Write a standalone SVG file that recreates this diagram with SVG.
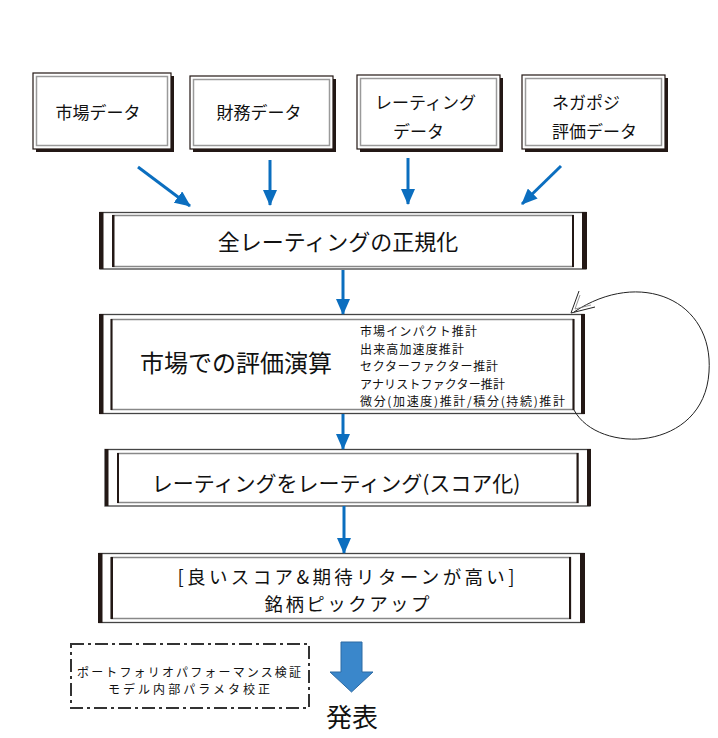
<svg xmlns="http://www.w3.org/2000/svg" width="718" height="738" viewBox="0 0 718 738">
<defs>
<style>
.t{font-family:"Noto Sans CJK JP","Noto Sans",sans-serif;fill:#111}
.shadow{fill:#231815}
.ob{fill:#fff;stroke:#231815;stroke-width:1.2}
.ib{fill:none;stroke:#9a9a9a;stroke-width:1.5}
.mo{fill:#fff;stroke:#444;stroke-width:1.3}
.mi{fill:none;stroke:#888;stroke-width:1.5}
.bar{fill:#231815}
.arr{stroke:#0b6ebf;stroke-width:3;fill:none}
</style>
<marker id="ah" markerUnits="userSpaceOnUse" markerWidth="16" markerHeight="14" refX="15" refY="7" orient="auto">
<path d="M0,0 L16,7 L0,14 z" fill="#0b6ebf"/>
</marker>
</defs>
<rect width="718" height="738" fill="#fff"/>

<g id="n-market">
<rect class="shadow" x="36" y="76" width="138" height="76"/>
<rect class="ob" x="33" y="73" width="138" height="76"/>
<rect class="ib" x="36.5" y="76.5" width="131" height="69"/>
<text class="t" x="98" y="119" font-size="17" text-anchor="middle">市場データ</text>
</g>
<g id="n-finance">
<rect class="shadow" x="193" y="79" width="143" height="73"/>
<rect class="ob" x="190" y="76" width="143" height="73"/>
<rect class="ib" x="193.5" y="79.5" width="136" height="66"/>
<text class="t" x="259" y="119" font-size="17" text-anchor="middle">財務データ</text>
</g>
<g id="n-rating">
<rect class="shadow" x="360" y="78" width="143" height="74"/>
<rect class="ob" x="357" y="75" width="143" height="74"/>
<rect class="ib" x="360.5" y="78.5" width="136" height="67"/>
<text class="t" x="375" y="109" font-size="17">レーティング</text>
<text class="t" x="393" y="138" font-size="17">データ</text>
</g>
<g id="n-negapos">
<rect class="shadow" x="525" y="78" width="143" height="74"/>
<rect class="ob" x="522" y="75" width="143" height="74"/>
<rect class="ib" x="525.5" y="78.5" width="136" height="67"/>
<text class="t" x="552" y="109" font-size="17">ネガポジ</text>
<text class="t" x="552" y="138" font-size="17">評価データ</text>
</g>

<g id="n-normalize">
<rect class="mo" x="100" y="212.5" width="486" height="56.5"/>
<rect class="bar" x="99" y="212" width="4.5" height="57"/>
<rect class="bar" x="582" y="212" width="5" height="57"/>
<rect class="mi" x="113" y="215.5" width="460" height="51"/>
<rect class="bar" x="112" y="215" width="2.5" height="52"/>
<rect class="bar" x="572" y="215" width="2" height="52"/>
<text class="t" x="338" y="250" font-size="22" text-anchor="middle">全レーティングの正規化</text>
</g>

<g id="n-eval">
<rect class="mo" x="100" y="314.5" width="484" height="99" stroke-width="2"/>
<rect class="bar" x="99" y="314" width="4.5" height="100"/>
<rect class="bar" x="581" y="314" width="4" height="100"/>
<rect class="mi" x="111.5" y="319.5" width="462" height="90"/>
<rect class="bar" x="110.5" y="319" width="2" height="91"/>
<rect class="bar" x="572.5" y="319" width="2" height="91"/>
<text class="t" x="236" y="372" font-size="24" text-anchor="middle">市場での評価演算</text>
<text class="t" x="360" y="336" font-size="12" textLength="117" lengthAdjust="spacing">市場インパクト推計</text>
<text class="t" x="360" y="353.5" font-size="12" textLength="104" lengthAdjust="spacing">出来高加速度推計</text>
<text class="t" x="360" y="371" font-size="12" textLength="138" lengthAdjust="spacing">セクターファクター推計</text>
<text class="t" x="360" y="388.5" font-size="12" textLength="145" lengthAdjust="spacing">アナリストファクター推計</text>
<text class="t" x="360" y="406" font-size="12" textLength="205" lengthAdjust="spacing">微分(加速度)推計/積分(持続)推計</text>
</g>

<g id="n-score">
<rect class="mo" x="105" y="449.5" width="485" height="56.5"/>
<rect class="bar" x="105" y="449" width="3.5" height="57"/>
<rect class="bar" x="587" y="449" width="4" height="57"/>
<rect class="mi" x="118" y="453.5" width="460" height="49"/>
<rect class="bar" x="117" y="453" width="2" height="50"/>
<rect class="bar" x="576.5" y="453" width="2" height="50"/>
<text class="t" x="336" y="491" font-size="21" text-anchor="middle">レーティングをレーティング(スコア化)</text>
</g>

<g id="n-pick">
<rect class="mo" x="99" y="553.5" width="485" height="69" stroke-width="2"/>
<rect class="bar" x="98" y="553" width="4.5" height="70"/>
<rect class="bar" x="580" y="553" width="5" height="70"/>
<rect class="mi" x="111.5" y="557.5" width="459" height="61"/>
<rect class="bar" x="110.5" y="557" width="2.5" height="62"/>
<rect class="bar" x="569" y="557" width="2" height="62"/>
<text class="t" x="346" y="584" font-size="18.5" text-anchor="middle" textLength="337" lengthAdjust="spacing">[良いスコア&amp;期待リターンが高い]</text>
<text class="t" x="347" y="611" font-size="18.5" text-anchor="middle" textLength="165" lengthAdjust="spacing">銘柄ピックアップ</text>
</g>

<g id="n-verify">
<rect x="71" y="644" width="238" height="64" fill="#fff" stroke="#333" stroke-width="2" stroke-dasharray="13 4 3 4"/>
<text class="t" x="77" y="676.5" font-size="12" textLength="224" lengthAdjust="spacing">ポートフォリオパフォーマンス検証</text>
<text class="t" x="108" y="694" font-size="12" textLength="162" lengthAdjust="spacing">モデル内部パラメタ校正</text>
</g>

<g id="n-publish">
<path d="M341,642 L362,642 L362,672 L373,672 L351.5,692 L330,672 L341,672 Z" fill="#3a87cb" stroke="#2c6aa3" stroke-width="1"/>
<text class="t" x="352" y="727" font-size="26" text-anchor="middle">発表</text>
</g>

<g id="connectors">
<line class="arr" x1="138" y1="167" x2="190" y2="206" marker-end="url(#ah)"/>
<line class="arr" x1="270" y1="160" x2="270" y2="205" marker-end="url(#ah)"/>
<line class="arr" x1="408" y1="158" x2="408" y2="204" marker-end="url(#ah)"/>
<line class="arr" x1="561" y1="166" x2="522" y2="204" marker-end="url(#ah)"/>
<line class="arr" x1="343" y1="270" x2="343" y2="314" marker-end="url(#ah)"/>
<line class="arr" x1="343" y1="414" x2="343" y2="449" marker-end="url(#ah)"/>
<line class="arr" x1="344" y1="506" x2="344" y2="553" marker-end="url(#ah)"/>
<path d="M574,410 C598,455 704,452 709,372 C714,300 640,268 574,312" fill="none" stroke="#222" stroke-width="1"/>
<path d="M595,307 L571,313 L579,291" fill="none" stroke="#222" stroke-width="1"/>
<path d="M591,305 L575,309 L580,295" fill="none" stroke="#777" stroke-width="0.8"/>
</g>
</svg>
